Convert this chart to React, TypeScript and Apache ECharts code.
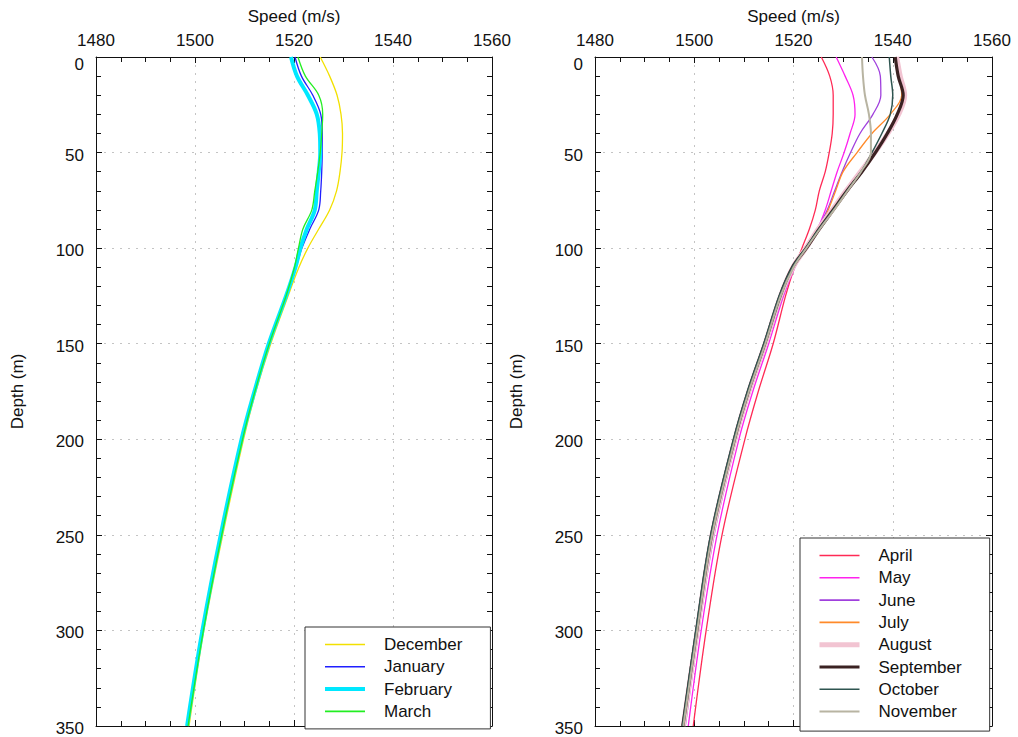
import React, { useEffect, useRef } from "react";
import * as echarts from "echarts";

const depths = [0, 10, 20, 30, 40, 50, 60, 70, 80, 90, 100, 110, 125, 150, 175, 200, 250, 300, 350];

const winterNames = ["December", "January", "February", "March"];
const december = [1525.3, 1527.2, 1528.7, 1529.5, 1529.8, 1529.7, 1529.3, 1528.6, 1527.2, 1525.0, 1522.8, 1521.0, 1518.8, 1515.3, 1512.3, 1509.8, 1505.6, 1501.8, 1498.8];
const january = [1520.2, 1521.5, 1523.8, 1525.4, 1525.7, 1525.7, 1525.6, 1525.4, 1525.0, 1523.2, 1521.6, 1520.4, 1518.4, 1514.8, 1511.9, 1509.3, 1505.1, 1501.4, 1498.3];
const february = [1519.4, 1520.6, 1522.8, 1524.6, 1525.2, 1525.3, 1525.0, 1524.6, 1524.2, 1522.6, 1521.3, 1520.3, 1518.4, 1514.9, 1512.0, 1509.4, 1505.2, 1501.5, 1498.4];
const march = [1520.8, 1522.3, 1525.0, 1525.8, 1525.6, 1525.3, 1524.8, 1524.2, 1523.6, 1521.8, 1520.9, 1520.1, 1518.4, 1515.0, 1512.1, 1509.6, 1505.4, 1501.7, 1498.6];

const summerNames = ["April", "May", "June", "July", "August", "September", "October", "November"];
const april = [1525.6, 1527.3, 1528.0, 1528.0, 1527.8, 1527.2, 1526.4, 1525.2, 1524.4, 1523.2, 1521.7, 1520.2, 1518.4, 1515.9, 1512.9, 1510.2, 1505.6, 1502.4, 1499.8];
const may = [1528.6, 1530.4, 1532.0, 1532.4, 1531.4, 1530.2, 1528.8, 1527.6, 1526.4, 1524.8, 1522.5, 1520.3, 1518.0, 1515.0, 1511.8, 1509.0, 1504.6, 1501.4, 1498.8];
const june = [1535.8, 1537.5, 1537.6, 1536.0, 1533.4, 1531.5, 1529.8, 1528.3, 1526.8, 1524.8, 1522.6, 1520.2, 1517.8, 1514.6, 1511.3, 1508.5, 1504.0, 1500.9, 1498.2];
const july = [1540.6, 1541.3, 1541.8, 1539.5, 1535.8, 1532.8, 1530.0, 1528.5, 1527.0, 1525.2, 1522.8, 1520.1, 1517.6, 1514.4, 1511.1, 1508.3, 1503.8, 1500.7, 1498.0];
const august = [1540.8, 1541.5, 1542.4, 1541.2, 1539.0, 1536.4, 1533.5, 1530.6, 1527.8, 1525.0, 1522.5, 1519.9, 1517.4, 1514.3, 1511.0, 1508.2, 1503.6, 1500.6, 1497.8];
const september = [1540.5, 1541.1, 1542.1, 1540.9, 1538.9, 1536.5, 1533.8, 1530.8, 1528.0, 1525.2, 1522.6, 1519.8, 1517.3, 1514.2, 1510.9, 1508.1, 1503.5, 1500.5, 1497.7];
const october = [1539.3, 1539.6, 1540.0, 1539.5, 1537.8, 1535.8, 1533.6, 1530.8, 1528.0, 1525.1, 1522.4, 1519.7, 1517.1, 1514.0, 1510.7, 1507.9, 1503.3, 1500.3, 1497.6];
const november = [1533.8, 1534.0, 1534.4, 1535.2, 1535.6, 1535.6, 1533.6, 1530.9, 1528.2, 1525.3, 1522.6, 1520.0, 1517.4, 1514.3, 1511.0, 1508.2, 1503.6, 1500.6, 1497.8];

const winterValues = [december, january, february, march];
const summerValues = [april, may, june, july, august, september, october, november];

const winterStyles = [
  { color: "#f2e000", width: 1.3 },
  { color: "#1f1fff", width: 1.3 },
  { color: "#00e8ff", width: 4 },
  { color: "#22ee22", width: 1.3 },
];
const summerStyles = [
  { color: "#ff2a55", width: 1.3 },
  { color: "#ff22ee", width: 1.3 },
  { color: "#a040dd", width: 1.3 },
  { color: "#ff8a2a", width: 1.3 },
  { color: "#f2c4d2", width: 5 },
  { color: "#3a2222", width: 3.2 },
  { color: "#2e5550", width: 1.5 },
  { color: "#b8b4a2", width: 2 },
];

const FONT = "Liberation Sans, Arial, sans-serif";
const GRID_LINE = { show: true, lineStyle: { color: "#c4c4c4", type: [2, 6] as any, width: 1 } };

function xAxes(grid: number) {
  const common = {
    gridIndex: grid,
    type: "value",
    min: 1480,
    max: 1560,
    interval: 20,
    axisLine: { show: true, onZero: false, lineStyle: { color: "#111", width: 1 } },
    axisTick: { show: true, inside: true, length: 6, lineStyle: { color: "#111" } },
    minorTick: { show: true, splitNumber: 4, length: 5, lineStyle: { color: "#111" } },
  };
  return [
    {
      ...common,
      position: "top",
      name: "Speed (m/s)",
      nameLocation: "middle",
      nameGap: 32,
      nameTextStyle: { fontSize: 17, color: "#111", fontFamily: FONT },
      axisLabel: {
        fontSize: 17,
        color: "#111",
        margin: 8,
        fontFamily: FONT,
        formatter: (v: number) => String(v),
      },
      splitLine: GRID_LINE,
    },
    {
      ...common,
      position: "bottom",
      axisLabel: { show: false },
      splitLine: { show: false },
    },
  ];
}

function yAxes(grid: number) {
  const common = {
    gridIndex: grid,
    type: "value",
    inverse: true,
    min: 0,
    max: 350,
    interval: 50,
    axisLine: { show: true, onZero: false, lineStyle: { color: "#111", width: 1 } },
    axisTick: { show: true, inside: true, length: 6, lineStyle: { color: "#111" } },
    minorTick: { show: true, splitNumber: 5, length: 5, lineStyle: { color: "#111" } },
  };
  return [
    {
      ...common,
      position: "left",
      name: "Depth (m)",
      nameLocation: "middle",
      nameGap: 70,
      nameTextStyle: { fontSize: 17, color: "#111", fontFamily: FONT },
      axisLabel: {
        fontSize: 17,
        color: "#111",
        margin: 12,
        fontFamily: FONT,
        formatter: (v: number) => (v === 0 ? "{z|0}" : "{n|" + v + "}"),
        rich: {
          z: { fontSize: 17, color: "#111", fontFamily: FONT, padding: [14, 0, 0, 0] },
          n: { fontSize: 17, color: "#111", fontFamily: FONT, padding: [5, 0, 0, 0] },
        },
      },
      splitLine: GRID_LINE,
    },
    {
      ...common,
      position: "right",
      axisLabel: { show: false },
      splitLine: { show: false },
    },
  ];
}

function makeSeries(names: string[], values: number[][], styles: any[], axisIdx: number) {
  return names.map((name, i) => ({
    name,
    type: "line",
    xAxisIndex: axisIdx,
    yAxisIndex: axisIdx,
    data: values[i].map((v, j) => [v, depths[j]]),
    smooth: 0.35,
    symbol: "none",
    showSymbol: false,
    color: styles[i].color,
    lineStyle: { color: styles[i].color, width: styles[i].width },
    emphasis: { disabled: true },
  }));
}

function legendCfg(names: string[], styles: any[], left: number, top: number, padding: number[]) {
  return {
    data: names.map((name, i) => ({
      name,
      lineStyle: { color: styles[i].color, width: Math.max(styles[i].width, 1.6) },
    })),
    orient: "vertical",
    left,
    top,
    padding,
    itemWidth: 40,
    itemHeight: 14,
    itemGap: 5.3,
    backgroundColor: "#fff",
    borderColor: "#333",
    borderWidth: 1,
    itemStyle: { color: "rgba(0,0,0,0)", borderWidth: 0, borderColor: "rgba(0,0,0,0)", opacity: 0 },
    textStyle: { fontSize: 17, color: "#111", fontFamily: FONT, lineHeight: 17, padding: [0, 0, 0, 14] },
    selectedMode: false,
  };
}

export default function App() {
  const ref = useRef<HTMLDivElement>(null);
  useEffect(() => {
    if (!ref.current) return;
    const chart = echarts.init(ref.current, undefined, { renderer: "svg" });
    chart.setOption({
      animation: false,
      backgroundColor: "#fff",
      textStyle: { fontFamily: FONT },
      grid: [
        { left: 96, top: 57, width: 396, height: 677 },
        { left: 595, top: 57, width: 397, height: 677 },
      ],
      xAxis: [...xAxes(0), ...xAxes(1)],
      yAxis: [...yAxes(0), ...yAxes(1)],
      legend: [
        legendCfg(winterNames, winterStyles, 305, 627, [9, 28, 9, 18]),
        legendCfg(summerNames, summerStyles, 800, 538, [9, 28, 11, 17]),
      ],
      series: [
        ...makeSeries(winterNames, winterValues, winterStyles, 0),
        ...makeSeries(summerNames, summerValues, summerStyles, 2),
      ],
    });
    return () => chart.dispose();
  }, []);
  return (
    <div
      ref={ref}
      style={{ position: "absolute", left: 0, top: 0, width: 1018, height: 737, background: "#fff" }}
    />
  );
}
